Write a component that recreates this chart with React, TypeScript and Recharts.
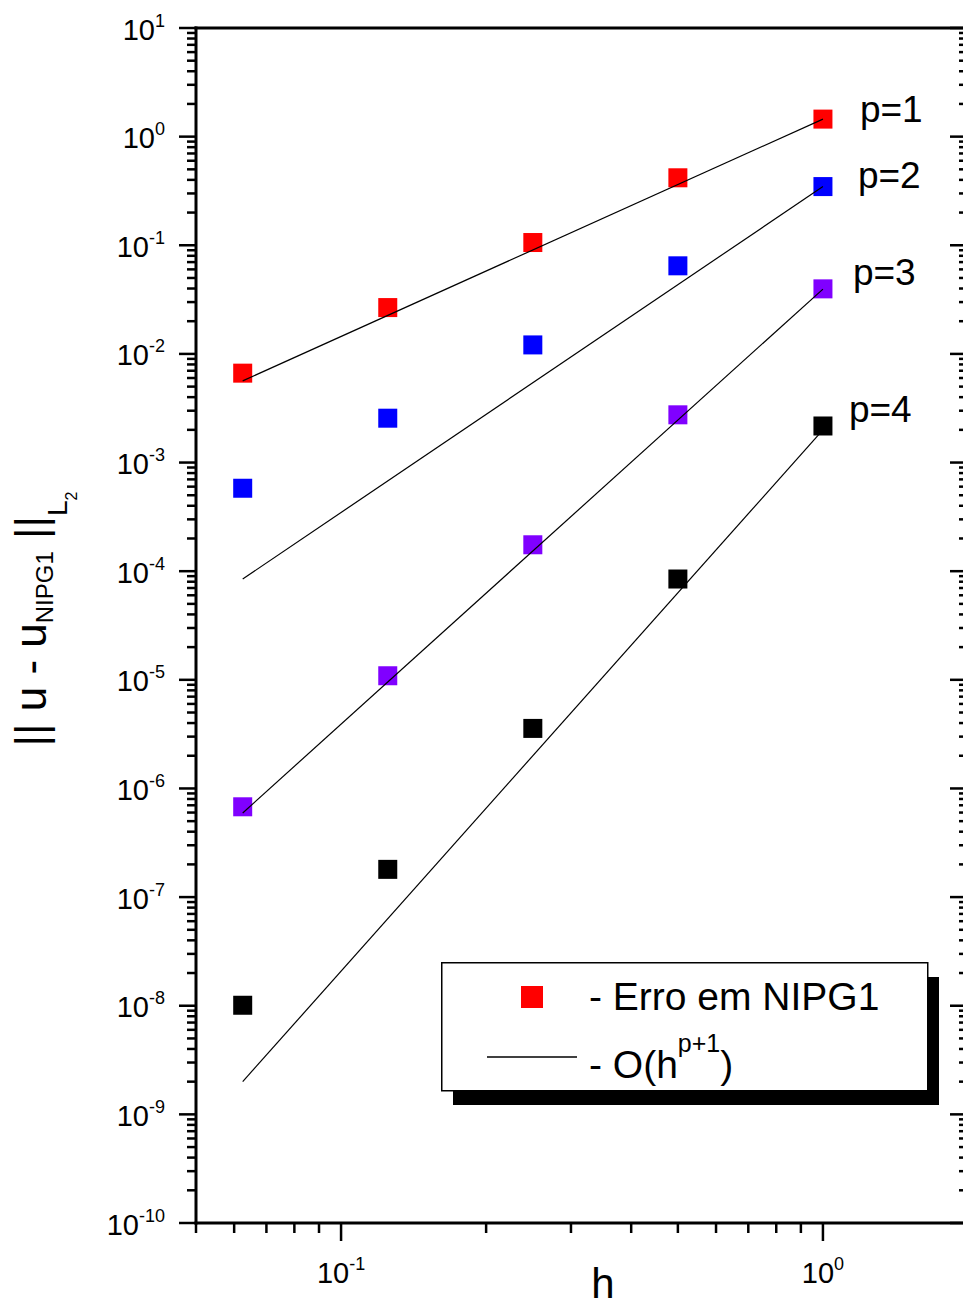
import { ReferenceDot, Legend, Scatter, ScatterChart, XAxis, YAxis } from "recharts";

const FONT = '"Liberation Sans", Arial, Helvetica, sans-serif';

// mesh sizes and L2 errors for each polynomial order
const hSteps = [1 / 16, 1 / 8, 1 / 4, 1 / 2, 1];
const errP1 = [6.65e-3, 2.67e-2, 0.106, 0.418, 1.45];
const errP2 = [5.8e-4, 2.56e-3, 1.21e-2, 6.47e-2, 0.347];
const errP3 = [6.78e-7, 1.09e-5, 1.75e-4, 2.75e-3, 3.97e-2];
const errP4 = [1.01e-8, 1.8e-7, 3.57e-6, 8.47e-5, 2.17e-3];

// reference slopes O(h^(p+1)), drawn between the end points
const hFit = [1 / 16, 1];
const fitP1 = [5.65e-3, 1.45];
const fitP2 = [8.47e-5, 0.347];
const fitP3 = [5.95e-7, 0.0395];
const fitP4 = [2.0e-9, 2.0e-3];

const orderLabels = ["p=1", "p=2", "p=3", "p=4"];
const seriesColors = ["#ff0000", "#0000ff", "#8000ff", "#000000"];

const xMajorTicks = [0.1, 1];
const xMinorTicks = [0.05, 0.06, 0.07, 0.08, 0.09, 0.2, 0.3, 0.4, 0.5, 0.6, 0.7, 0.8, 0.9, 2];
const yMajorTicks = [1e-10, 1e-9, 1e-8, 1e-7, 1e-6, 1e-5, 1e-4, 1e-3, 1e-2, 1e-1, 1, 10];
const yMinorTicks = yMajorTicks.slice(0, -1).flatMap((d) => [2, 3, 4, 5, 6, 7, 8, 9].map((k) => k * d));

const errSeries = [errP1, errP2, errP3, errP4];
const fitSeries = [fitP1, fitP2, fitP3, fitP4];
const toRows = (hs: number[], vs: number[]) => hs.map((h, i) => ({ h, err: vs[i] }));

// p=... label offsets from the h=1 marker
const labelOffsets = [
  { dx: 37, dy: 3 },
  { dx: 35, dy: 1 },
  { dx: 30, dy: -4 },
  { dx: 26, dy: -4 },
];

const isMajor = (v: number) => {
  const l = Math.log10(v);
  return Math.abs(l - Math.round(l)) < 1e-6;
};
const expOf = (v: number) => `${Math.round(Math.log10(v))}`;

const TICK = { stroke: "#000", strokeWidth: 2.5 };

function LeftTick(props: any) {
  const { x, y, payload } = props;
  const major = isMajor(payload.value);
  return (
    <g>
      <line x1={x - (major ? 17 : 9)} x2={x} y1={y} y2={y} {...TICK} />
      {major && (
        <text x={x - 31} y={y + 11.5} textAnchor="end" fontFamily={FONT} fontSize={29} fill="#000">
          10
          <tspan dy={-13} fontSize={18}>
            {expOf(payload.value)}
          </tspan>
        </text>
      )}
    </g>
  );
}

function RightTick(props: any) {
  const { x, y, payload } = props;
  const major = isMajor(payload.value);
  return <line x1={x - (major ? 18 : 9)} x2={x} y1={y} y2={y} {...TICK} />;
}

function BottomTick(props: any) {
  const { x, y, payload } = props;
  const major = isMajor(payload.value);
  return (
    <g>
      <line x1={x} x2={x} y1={y} y2={y + (major ? 18 : 10)} {...TICK} />
      {major && (
        <text x={x} y={y + 60} textAnchor="middle" fontFamily={FONT} fontSize={29} fill="#000">
          10
          <tspan dy={-13} fontSize={18}>
            {expOf(payload.value)}
          </tspan>
        </text>
      )}
    </g>
  );
}

function TopTick(props: any) {
  const { x, y, payload } = props;
  const major = isMajor(payload.value);
  return <line x1={x} x2={x} y1={y} y2={y + (major ? 16 : 9)} {...TICK} />;
}

function XTitle({ viewBox }: any) {
  return (
    <text x={viewBox.x + 407} y={viewBox.y + 75} textAnchor="middle" fontFamily={FONT} fontSize={42} fill="#000">
      h
    </text>
  );
}

function YTitle({ viewBox }: any) {
  const cx = 46;
  const cy = viewBox.y + 591;
  return (
    <text
      x={cx}
      y={cy}
      transform={`rotate(-90, ${cx}, ${cy})`}
      textAnchor="middle"
      fontFamily={FONT}
      fontSize={44}
      fill="#000"
    >
      || u - u
      <tspan dy={7} fontSize={24}>
        NIPG1
      </tspan>
      <tspan dy={-7}> ||</tspan>
      <tspan dy={21} fontSize={28}>
        L
      </tspan>
      <tspan dy={10} fontSize={16}>
        2
      </tspan>
    </text>
  );
}

function LegendBox() {
  return (
    <svg width={505} height={150} style={{ display: "block", overflow: "visible" }}>
      <rect x={12} y={15} width={486} height={128} fill="#000" />
      <rect x={0.75} y={0.75} width={486} height={128} fill="#fff" stroke="#000" strokeWidth={1.5} />
      <rect x={80} y={24} width={22} height={22} fill={seriesColors[0]} />
      <text x={148} y={48} fontFamily={FONT} fontSize={39} fill="#000">
        - Erro em NIPG1
      </text>
      <line x1={46} x2={136} y1={95} y2={95} stroke="#000" strokeWidth={1.3} />
      <text x={148} y={116} fontFamily={FONT} fontSize={39} fill="#000">
        - O(h
        <tspan dy={-26} fontSize={25}>
          p+1
        </tspan>
        <tspan dy={26}>)</tspan>
      </text>
    </svg>
  );
}

const squareMarker = (color: string) => (props: any) =>
  <rect x={props.cx - 9.5} y={props.cy - 9.5} width={19} height={19} fill={color} />;

const noMarker = () => <g />;

export default function App() {
  return (
    <div style={{ position: "absolute", left: 0, top: 0, width: 963, height: 1306, overflow: "hidden", background: "#fff" }}>
      <ScatterChart width={980} height={1306} margin={{ top: 27, right: 11, bottom: 3, left: 0 }}>
        <XAxis
          dataKey="h"
          type="number"
          scale="log"
          domain={[0.05, 2]}
          allowDataOverflow
          ticks={[...xMinorTicks, ...xMajorTicks].sort((a, b) => a - b)}
          interval={0}
          tickSize={0}
          tickMargin={0}
          tickLine={false}
          tick={<BottomTick />}
          height={80}
          axisLine={{ stroke: "#000", strokeWidth: 3, strokeLinecap: "square" }}
          label={XTitle}
        />
        <XAxis
          xAxisId="top"
          orientation="top"
          type="number"
          scale="log"
          domain={[0.05, 2]}
          allowDataOverflow
          ticks={[...xMinorTicks, ...xMajorTicks].sort((a, b) => a - b)}
          interval={0}
          tickSize={0}
          tickMargin={0}
          tickLine={false}
          tick={<TopTick />}
          height={1}
          axisLine={{ stroke: "#000", strokeWidth: 3, strokeLinecap: "square" }}
        />
        <YAxis
          dataKey="err"
          type="number"
          scale="log"
          domain={[1e-10, 10]}
          allowDataOverflow
          ticks={[...yMinorTicks, ...yMajorTicks].sort((a, b) => a - b)}
          interval={0}
          tickSize={0}
          tickMargin={0}
          tickLine={false}
          tick={<LeftTick />}
          width={196}
          axisLine={{ stroke: "#000", strokeWidth: 3, strokeLinecap: "square" }}
          label={YTitle}
        />
        <YAxis
          yAxisId="right"
          orientation="right"
          type="number"
          scale="log"
          domain={[1e-10, 10]}
          allowDataOverflow
          ticks={[...yMinorTicks, ...yMajorTicks].sort((a, b) => a - b)}
          interval={0}
          tickSize={0}
          tickMargin={0}
          tickLine={false}
          tick={<RightTick />}
          width={1}
          axisLine={{ stroke: "#000", strokeWidth: 3, strokeLinecap: "square" }}
        />

        {errSeries.map((vals, i) => (
          <Scatter
            key={`err-${i}`}
            name={orderLabels[i]}
            data={toRows(hSteps, vals)}
            fill={seriesColors[i]}
            shape={squareMarker(seriesColors[i])}
            isAnimationActive={false}
          />
        ))}
        {fitSeries.map((vals, i) => (
          <Scatter
            key={`fit-${i}`}
            data={toRows(hFit, vals)}
            line={{ stroke: "#000", strokeWidth: 1.2 }}
            shape={noMarker}
            legendType="none"
            isAnimationActive={false}
          />
        ))}

        {errSeries.map((vals, i) => (
          <ReferenceDot
            key={`lbl-${i}`}
            x={hSteps[hSteps.length - 1]}
            y={vals[vals.length - 1]}
            r={0}
            shape={(p: any) => (
              <text
                x={p.cx + labelOffsets[i].dx}
                y={p.cy + labelOffsets[i].dy}
                fontFamily={FONT}
                fontSize={37}
                fill="#000"
              >
                {orderLabels[i]}
              </text>
            )}
          />
        ))}

        <Legend
          layout="vertical"
          align="center"
          verticalAlign="middle"
          content={LegendBox}
          wrapperStyle={{ left: 441, top: 962, width: 505, height: 150 }}
        />
      </ScatterChart>
    </div>
  );
}
